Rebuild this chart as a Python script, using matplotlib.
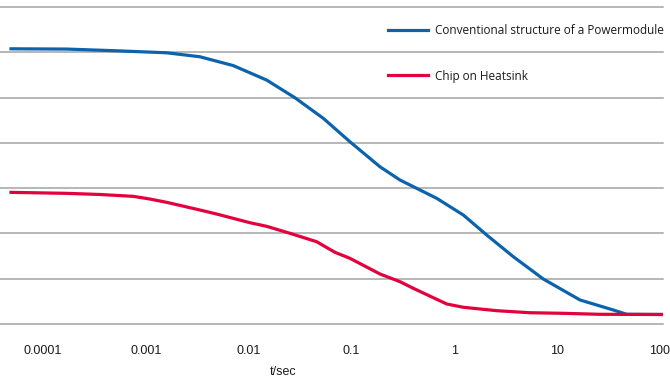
import matplotlib
matplotlib.use("Agg")
import matplotlib.pyplot as plt
import numpy as np

# Data: log10(t / sec) and value in gridline units
logt_blue = [-4.311, -3.769, -3.283, -2.797, -2.473, -2.149, -1.824, -1.549, -1.273, -1.014,
             -0.722, -0.527, -0.365, -0.170, 0.089, 0.316, 0.575, 0.867, 1.224, 1.548, 1.678, 2.031]
y_blue = [6.077, 6.071, 6.033, 5.989, 5.901, 5.706, 5.386, 4.996, 4.541, 4.024,
          3.472, 3.179, 2.996, 2.775, 2.406, 1.965, 1.486, 0.993, 0.530, 0.309, 0.214, 0.21]

logt_red = [-4.311, -3.769, -3.446, -3.122, -2.959, -2.797, -2.473, -2.310, -1.986, -1.824, -1.597,
            -1.338, -1.160, -1.014, -0.722, -0.527, -0.398, -0.073, 0.089, 0.413, 0.737, 1.061,
            1.418, 2.031]
y_red = [2.907, 2.885, 2.860, 2.819, 2.759, 2.687, 2.517, 2.428, 2.236, 2.157, 2.002,
         1.817, 1.583, 1.450, 1.104, 0.934, 0.788, 0.442, 0.369, 0.294, 0.249, 0.236,
         0.214, 0.21]

tick_vals = [1e-4, 1e-3, 1e-2, 1e-1, 1, 10, 100]
tick_labels = ["0.0001", "0.001", "0.01", "0.1", "1", "10", "100"]
labels = ["Conventional structure of a Powermodule", "Chip on Heatsink"]

BLUE = "#0b63ae"
RED = "#e3003d"

t_blue = np.power(10.0, logt_blue)
t_red = np.power(10.0, logt_red)

fig = plt.figure(figsize=(6.70, 3.78), dpi=100)
ax = fig.add_axes([0.0, 1 - 324 / 378, 663 / 670, (324 - 7) / 378])

ax.plot(t_blue, y_blue, color=BLUE, lw=2.3, label=labels[0], solid_joinstyle="round")
ax.plot(t_red, y_red, color=RED, lw=2.3, label=labels[1], solid_joinstyle="round")

ax.set_xscale("log")
ax.set_xlim(10 ** -4.418, 10 ** 2.031)
ax.set_ylim(0, 7)
ax.set_yticks(range(0, 8))
ax.set_yticklabels([])
ax.tick_params(axis="y", length=0)
ax.yaxis.grid(True, color="#a3a3a3", lw=1.1)
for gl in ax.get_ygridlines():
    gl.set_clip_on(False)
ax.set_axisbelow(True)

ax.set_xticks(tick_vals)
ax.set_xticklabels(tick_labels, fontfamily="Liberation Sans", fontsize=9, color="#1a1a1a")
ax.xaxis.set_minor_locator(matplotlib.ticker.NullLocator())
ax.tick_params(axis="x", length=0, pad=15)

for s in ax.spines.values():
    s.set_visible(False)

ax.set_xlabel("t/sec", fontfamily="Liberation Sans", fontsize=9, color="#1a1a1a")
ax.xaxis.set_label_coords(283 / 663, -0.134)

leg = ax.legend(loc="upper left", bbox_to_anchor=(388 / 663, 1 - 17 / 317), frameon=False,
                prop={"family": "Open Sans", "size": 8.5}, handlelength=3.4,
                handletextpad=0.6, labelspacing=2.76, borderaxespad=0, borderpad=0)
for txt in leg.get_texts():
    txt.set_color("#1a1a1a")

fig.savefig("out.png", dpi=100, facecolor="white")
